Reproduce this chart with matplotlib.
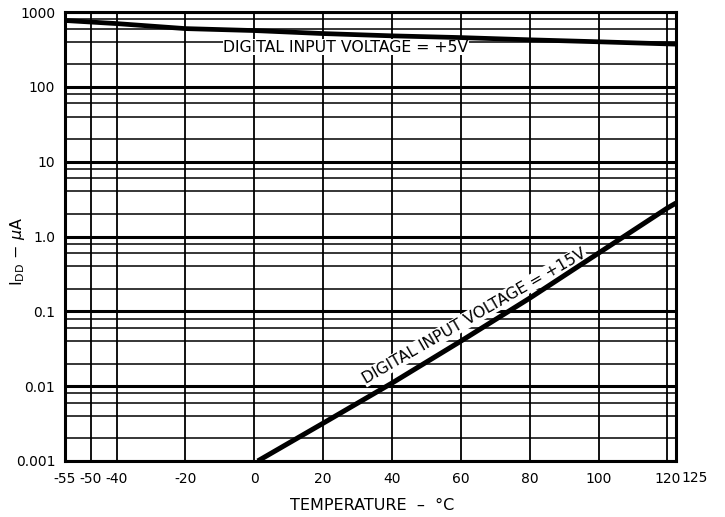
import matplotlib
matplotlib.use("Agg")
import matplotlib.pyplot as plt
from matplotlib.ticker import FixedLocator, NullFormatter, LogLocator
import matplotlib.transforms as mtransforms

plt.rcParams['font.family'] = ['DejaVu Sans']
plt.rcParams['mathtext.fontset'] = 'dejavusans'

# Data
temp_5v = [-55, -40, -20, 0, 20, 40, 60, 80, 100, 120, 122.5]
idd_5v = [770, 700, 600, 565, 515, 480, 455, 425, 400, 375, 372]

temp_15v = [1, 20, 40, 60, 80, 100, 120, 122.5]
idd_15v = [0.001, 0.0032, 0.011, 0.04, 0.15, 0.6, 2.4, 2.8]

x_tick_labels = ['-55', '-50', '-40', '-20', '0', '20', '40', '60', '80', '100', '120']
x_tick_pos = [-55, -47.5, -40, -20, 0, 20, 40, 60, 80, 100, 120]
y_ticks = [0.001, 0.01, 0.1, 1.0, 10, 100, 1000]
y_tick_labels = ['0.001', '0.01', '0.1', '1.0', '10', '100', '1000']

fig = plt.figure(figsize=(7.25, 5.17), dpi=100)
ax = fig.add_axes([65/725, 1-461/517, (676-65)/725, (461-12)/517])

ax.set_yscale('log')
ax.set_xlim(-55, 122.5)
ax.set_ylim(0.001, 1000)

ax.xaxis.set_major_locator(FixedLocator(x_tick_pos))
ax.set_xticklabels(x_tick_labels)
ax.set_yticks(y_ticks)
ax.set_yticklabels(y_tick_labels)
ax.yaxis.set_minor_locator(LogLocator(base=10, subs=(2, 4, 6, 8)))
ax.yaxis.set_minor_formatter(NullFormatter())

ax.grid(True, axis='x', which='major', color='black', lw=1.3)
ax.grid(True, axis='y', which='major', color='black', lw=2.2)
ax.grid(True, axis='y', which='minor', color='black', lw=1.1)
ax.tick_params(axis='both', which='both', length=0, labelsize=10)
ax.tick_params(axis='y', pad=7)
ax.tick_params(axis='x', pad=8)
for s in ax.spines.values():
    s.set_linewidth(2.2)

ax.plot(temp_5v, idd_5v, color='black', lw=3.4, solid_capstyle='butt', zorder=4)
ax.plot(temp_15v, idd_15v, color='black', lw=3.6, solid_capstyle='butt', zorder=4)

box = dict(facecolor='white', edgecolor='none', pad=0.6)
ax.text(346/725, 1-47/517, 'DIGITAL INPUT VOLTAGE = +5V', transform=fig.transFigure,
        fontsize=11.3, ha='center', va='center', bbox=box, zorder=3)
ax.text(474/725, 1-316/517, 'DIGITAL INPUT VOLTAGE = +15V', transform=fig.transFigure,
        fontsize=11.3, ha='center', va='center', rotation=30, rotation_mode='anchor',
        bbox=box, zorder=3)

trans = mtransforms.blended_transform_factory(ax.transData, ax.transAxes)
ax.text(128, -(478-461)/449, '125', transform=trans, fontsize=10, ha='center', va='center',
        clip_on=False)

ax.set_xlabel('TEMPERATURE  \u2013  \u00b0C', fontsize=11.5)
ax.xaxis.set_label_coords((372-65)/611, -(505-461)/449)
ax.xaxis.label.set_va('center')
ax.set_ylabel(r'I$_{\mathrm{DD}}$ $-$ $\mu$A', fontsize=11.5)
ax.yaxis.set_label_coords((17-65)/611, (461-251)/449)
ax.yaxis.label.set_va('center')

fig.savefig('out.png', dpi=100)
